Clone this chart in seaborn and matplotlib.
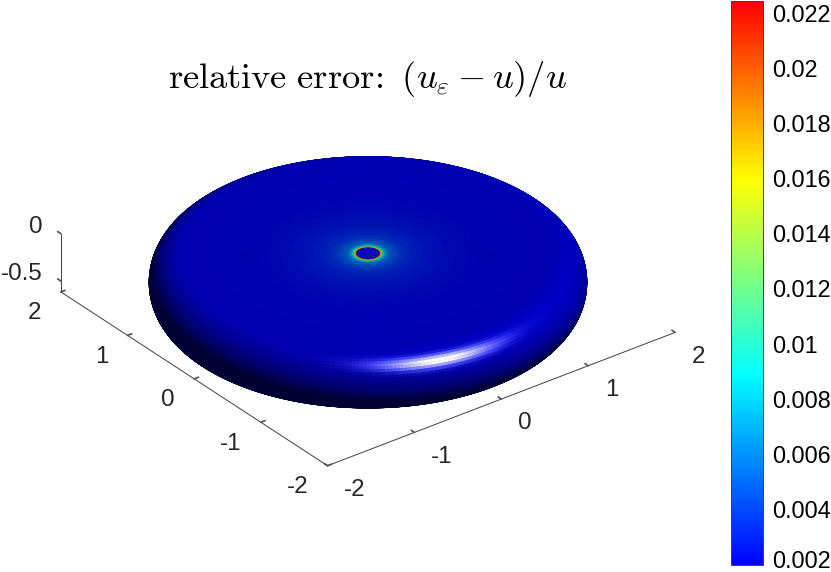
"""Relative error on a flattened body, shown as a lit 3D surface."""

import matplotlib

matplotlib.use("Agg")

import matplotlib.pyplot as plt
import numpy as np
import seaborn as sns
from matplotlib.cm import ScalarMappable
from matplotlib.colors import LinearSegmentedColormap, Normalize
from matplotlib.transforms import ScaledTranslation

# Top face rings
TOP_R = [0.0, 0.05, 0.095, 0.105, 0.11, 0.115, 0.12, 0.127, 0.135, 0.145, 0.155, 0.165,
         0.18, 0.2, 0.23, 0.27, 0.3, 0.33, 0.36, 0.4, 0.45, 0.5, 0.55, 0.6, 0.65, 0.7, 0.8,
         0.9, 1.0, 1.2, 1.4, 1.55, 1.7]
TOP_ERROR = [0.0025, 0.0025, 0.0025, 0.022, 0.019, 0.016, 0.0135, 0.0115, 0.0095, 0.008, 0.007,
             0.0062, 0.0055, 0.005, 0.0045, 0.004, 0.0037, 0.0035, 0.0033, 0.0031, 0.003,
             0.0028, 0.0027, 0.0026, 0.0025, 0.0024, 0.0023, 0.0022, 0.0021, 0.0021, 0.002,
             0.002, 0.002]

# Upper half of the rounded rim
RIM_R = [1.726, 1.752, 1.778, 1.803, 1.827, 1.85, 1.872, 1.893, 1.912, 1.93, 1.946, 1.96,
         1.972, 1.982, 1.99, 1.995, 1.999, 2.0]
RIM_Z = [-0.0011, -0.0046, -0.0102, -0.0181, -0.0281, -0.0402, -0.0542, -0.0702, -0.0879,
         -0.1072, -0.1279, -0.15, -0.1732, -0.1974, -0.2224, -0.2479, -0.2738, -0.3]

BOTTOM_Z = -0.6
RIM_ERROR = 0.002

X_TICKS = [-2, -1, 0, 1, 2]
Y_TICKS = [-2, -1, 0, 1, 2]
Z_TICKS = [-0.5, 0]
Z_FLOOR = -0.615
CBAR_TICKS = [0.002, 0.004, 0.006, 0.008, 0.01, 0.012, 0.014, 0.016, 0.018, 0.02, 0.022]
CBAR_MIN = 0.002
CBAR_MAX = 0.0225

CMAP_STOPS = [(0.0, "#0000ff"), (0.337, "#00ffff"), (0.683, "#ffff00"), (1.0, "#ff0000")]

TITLE = r"$\mathrm{relative\ error\!{:}}\ (u_{\varepsilon}-u)/u$"
TEXT_COLOR = "#262626"

sns.set_theme(style="white", rc={"axes.unicode_minus": False, "mathtext.fontset": "cm"})
plt.rcParams["font.family"] = ["Liberation Sans", "DejaVu Sans"]

# Full profile: centre of the top, out over the rim, back to the centre of the bottom
rim_low_r = RIM_R[-2::-1] + [1.7]
rim_low_z = [BOTTOM_Z - z for z in RIM_Z[-2::-1]] + [BOTTOM_Z]
profile_r = np.array(TOP_R + RIM_R + rim_low_r + [1.2, 0.6, 0.0])
profile_z = np.array([0.0] * len(TOP_R) + RIM_Z + rim_low_z + [BOTTOM_Z] * 3)
profile_err = np.array(TOP_ERROR + [RIM_ERROR] * (len(RIM_R) + len(rim_low_r) + 3))

theta = np.linspace(0, 2 * np.pi, 361)
grid_r, grid_t = np.meshgrid(profile_r, theta, indexing="ij")
x = grid_r * np.cos(grid_t)
y = grid_r * np.sin(grid_t)
z = np.tile(profile_z[:, None], (1, len(theta)))

cmap = LinearSegmentedColormap.from_list("rel_error", CMAP_STOPS)
norm = Normalize(CBAR_MIN, CBAR_MAX)

# Lighting, per ring and angle
dr = np.gradient(profile_r)
dz = np.gradient(profile_z)
length = np.hypot(dr, dz)
normal_r, normal_z = -dz / length, dr / length
normals = np.stack([
    normal_r[:, None] * np.cos(grid_t),
    normal_r[:, None] * np.sin(grid_t),
    np.tile(normal_z[:, None], (1, len(theta))),
], axis=-1)

view = np.array([-0.527, -0.687, 0.5])
light = np.array([0.16, -0.48, 0.88])
light = light / np.linalg.norm(light)
half = (view + light) / np.linalg.norm(view + light)
diffuse = np.clip(normals @ light, 0, None)
specular = np.clip(normals @ half, 0, None) ** 55

base = cmap(norm(profile_err))[:, :3]
rgb = base[:, None, :] * (0.2 + 0.6 * diffuse[..., None]) + 1.1 * specular[..., None]
face_colors = np.clip(rgb, 0, 1)


def nudge_tick_labels(axis, dx, dy, ha):
    """Shift an axis' tick labels by pixels; get_major_ticks resets transforms on 3D axes."""
    offset = ScaledTranslation(dx / 100, dy / 100, fig.dpi_scale_trans)
    get_ticks = axis.get_major_ticks

    def get_nudged_ticks(numticks=None):
        ticks = get_ticks(numticks)
        for tick in ticks:
            tick.label1.set_transform(ax.transData + offset)
            tick.label1.set_ha(ha)
        return ticks

    axis.get_major_ticks = get_nudged_ticks


fig = plt.figure(figsize=(8.31, 5.72), dpi=100, facecolor="white")
ax = fig.add_axes([102 / 831, 23 / 572, 518 / 831, 518 / 572], projection="3d")
ax.set_proj_type("ortho")
ax.view_init(elev=30, azim=-127.5)
ax.set_box_aspect((4, 4, -Z_FLOOR), zoom=1.168)
ax.patch.set_alpha(0)

ax.plot_surface(x, y, z, facecolors=face_colors, rcount=len(profile_r), ccount=len(theta),
                shade=False, linewidth=0.3)

ax.set_xlim(-2, 2)
ax.set_ylim(-2, 2)
ax.set_zlim(Z_FLOOR, 0)
ax.set_xticks(X_TICKS)
ax.set_yticks(Y_TICKS)
ax.set_zticks(Z_TICKS)
ax.set_zticklabels(["-0.5", "0"])
ax.grid(False)
# z ticks point along y here, not along x
ax.zaxis._get_tickdir = lambda pos: 1
for axis in (ax.xaxis, ax.yaxis, ax.zaxis):
    axis.set_pane_color((1, 1, 1, 0))
    axis.line.set_color("#404040")
    axis.line.set_linewidth(0.7)
    axis._axinfo["tick"]["inward_factor"] = 0.0
    axis._axinfo["tick"]["outward_factor"] = 0.15
ax.tick_params(labelsize=17.4, labelcolor=TEXT_COLOR, color="#555555", width=0.5, pad=4)

nudge_tick_labels(ax.xaxis, 0, 1, "left")
nudge_tick_labels(ax.yaxis, 2, 1.5, "right")
nudge_tick_labels(ax.zaxis, 19.5, 15.5, "right")

fig.text(367.5 / 831, 1 - 79 / 572, TITLE, fontsize=26.2, ha="center", va="center", color="black")

cax = fig.add_axes([731 / 831, 1 - 565 / 572, 32 / 831, 564 / 572])
cbar = fig.colorbar(ScalarMappable(norm=norm, cmap=cmap), cax=cax, ticks=CBAR_TICKS)
cbar.ax.set_yticklabels([f"{t:g}" for t in CBAR_TICKS])
cbar.ax.tick_params(direction="in", length=4, width=0.7, labelsize=16.8, colors="black", pad=6.5)
for label, tick in zip(cbar.ax.get_yticklabels(), CBAR_TICKS):
    lift = 4 if tick == CBAR_MIN else 1
    label.set_transform(label.get_transform()
                        + ScaledTranslation(0, lift / 72, fig.dpi_scale_trans))
cbar.outline.set_edgecolor("#404040")
cbar.outline.set_linewidth(0.7)

fig.savefig("out.png", dpi=100)
